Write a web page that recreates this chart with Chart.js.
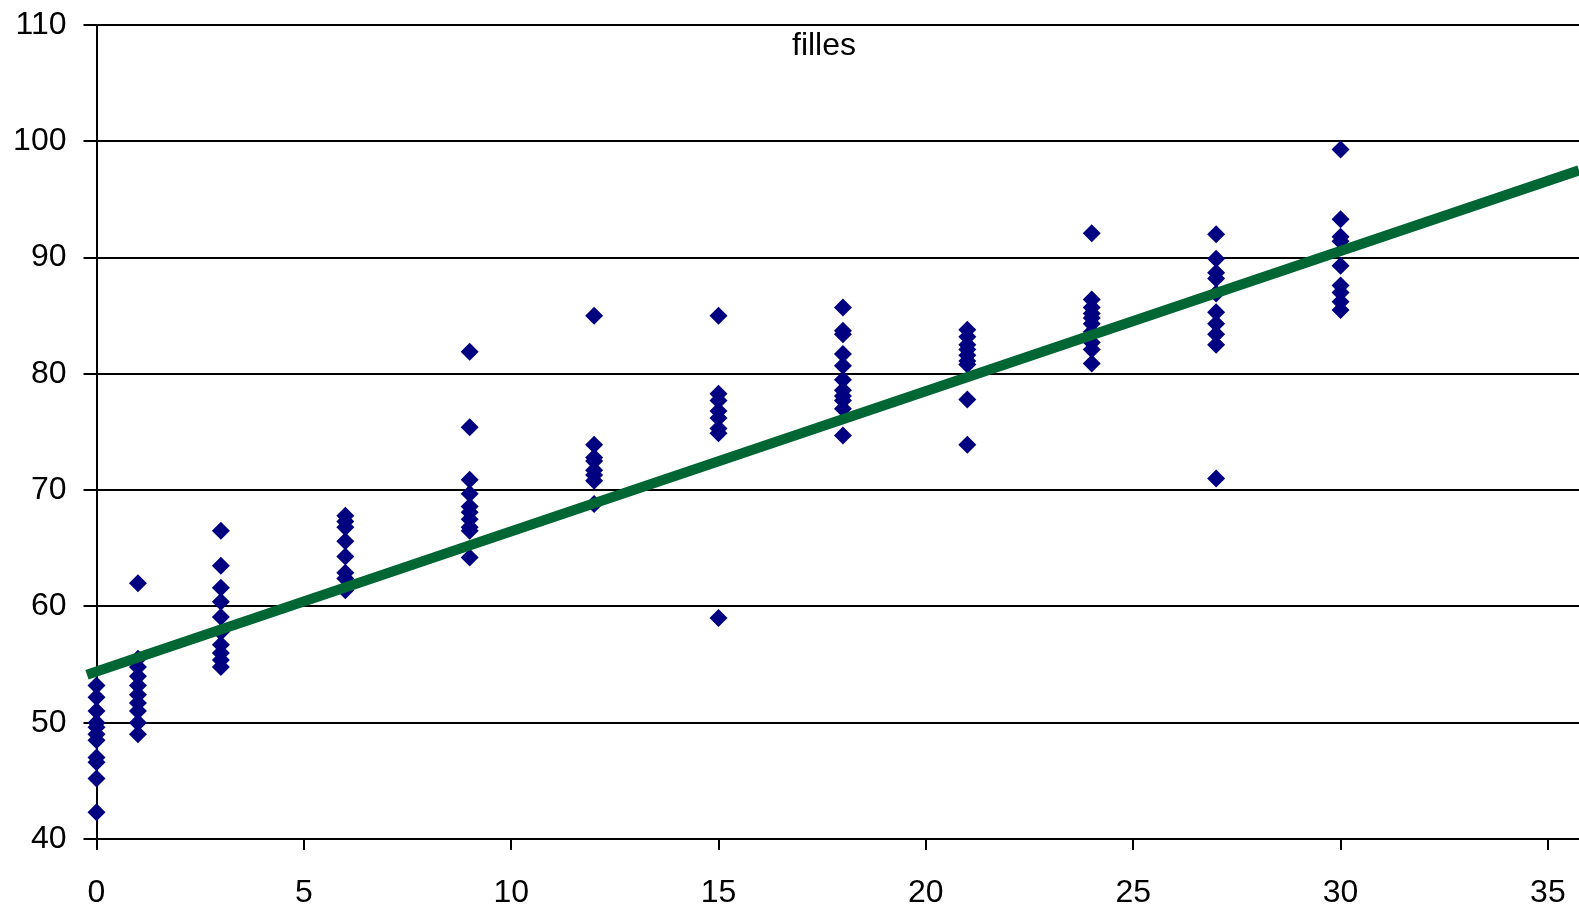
<!DOCTYPE html>
<html>
<head>
<meta charset="utf-8">
<script src="https://cdn.jsdelivr.net/npm/chart.js@4.4.1/dist/chart.umd.min.js"></script>
<style>
  html, body { margin: 0; padding: 0; background: #fff; overflow: hidden; }
  #wrap { width: 1579px; height: 907px; overflow: hidden; }
  #c { display: block; }
</style>
</head>
<body>
<div id="wrap"><canvas id="c" width="1579" height="907"></canvas></div>
<script>
// ---- data ----
const title = "filles";
const ages = [0, 1, 3, 6, 9, 12, 15, 18, 21, 24, 27, 30];
const h0  = [53.2, 52.2, 51.0, 50.0, 49.6, 49.0, 48.5, 47.0, 46.6, 45.2, 42.3];
const h1  = [62.0, 55.5, 54.8, 54.0, 53.2, 52.4, 51.7, 51.0, 50.0, 49.0];
const h3  = [66.5, 63.5, 61.6, 60.4, 59.1, 57.8, 56.7, 56.0, 55.4, 54.8];
const h6  = [67.8, 67.3, 66.8, 65.6, 64.3, 62.9, 62.4, 61.4];
const h9  = [81.9, 75.4, 70.9, 69.7, 68.6, 68.1, 67.5, 66.8, 66.5, 64.2];
const h12 = [85.0, 73.9, 72.8, 72.5, 71.7, 71.3, 70.8, 68.8];
const h15 = [85.0, 78.3, 77.7, 76.8, 76.2, 75.3, 74.9, 59.0];
const h18 = [85.7, 83.7, 83.4, 81.7, 80.7, 79.5, 78.6, 78.1, 77.7, 77.0, 74.7];
const h21 = [83.8, 83.2, 82.5, 82.1, 81.6, 81.1, 80.8, 77.8, 73.9];
const h24 = [92.1, 86.4, 85.7, 85.2, 84.8, 84.3, 83.6, 82.7, 82.1, 80.9];
const h27 = [92.0, 89.9, 88.7, 88.2, 86.9, 85.3, 84.3, 83.4, 82.5, 71.0];
const h30 = [99.3, 93.3, 91.8, 91.4, 89.3, 87.6, 87.0, 86.2, 85.5];
const trendX = [-0.23, 35.75];
const trendY = [54.12, 97.5];
const xTicks = [0, 5, 10, 15, 20, 25, 30, 35];
const yTicks = [40, 50, 60, 70, 80, 90, 100, 110];

// ---- build datasets ----
const heightGroups = [h0, h1, h3, h6, h9, h12, h15, h18, h21, h24, h27, h30];
const scatterPoints = [];
ages.forEach((a, i) => heightGroups[i].forEach(v => scatterPoints.push({x: a, y: v})));
const trendPoints = trendX.map((x, i) => ({x: x, y: trendY[i]}));

const FONT = "'Liberation Sans', Arial, Helvetica, sans-serif";

const titlePlugin = {
  id: 'innerTitle',
  afterDraw(chart) {
    const ctx = chart.ctx;
    ctx.save();
    ctx.fillStyle = '#000';
    ctx.font = "32px " + FONT;
    ctx.textAlign = 'center';
    ctx.textBaseline = 'alphabetic';
    ctx.fillText(title, 824, 54.5);
    ctx.restore();
  }
};

new Chart(document.getElementById('c'), {
  type: 'scatter',
  data: {
    datasets: [
      {
        type: 'line',
        label: 'trend',
        data: trendPoints,
        borderColor: '#006633',
        borderWidth: 10,
        borderCapStyle: 'butt',
        pointRadius: 0,
        fill: false,
        clip: false,
        order: 0
      },
      {
        label: 'filles',
        data: scatterPoints,
        pointStyle: 'rectRot',
        pointRadius: 9,
        pointBorderWidth: 0,
        backgroundColor: '#000080',
        borderColor: '#000080',
        clip: false,
        order: 1
      }
    ]
  },
  options: {
    responsive: false,
    animation: false,
    events: [],
    layout: { autoPadding: false, padding: { top: 25, right: 0, bottom: 0, left: 0 } },
    plugins: { legend: { display: false }, tooltip: { enabled: false }, title: { display: false } },
    scales: {
      x: {
        type: 'linear',
        min: 0,
        max: 35.75,
        afterBuildTicks(scale) { scale.ticks = xTicks.map(v => ({value: v})); },
        afterFit(scale) {
          scale.height = 68;
          scale.paddingLeft = 0; scale.paddingRight = 0;
          scale.paddingTop = 0; scale.paddingBottom = 0;
        },
        ticks: {
          includeBounds: false,
          autoSkip: false,
          maxRotation: 0,
          padding: 24,
          color: '#000',
          font: { family: FONT, size: 32 }
        },
        grid: {
          display: true,
          drawOnChartArea: false,
          drawTicks: true,
          tickLength: 11,
          color: '#000',
          lineWidth: 2
        },
        border: { display: true, color: '#000', width: 2 }
      },
      y: {
        type: 'linear',
        min: 40,
        max: 110,
        afterBuildTicks(scale) { scale.ticks = yTicks.map(v => ({value: v})); },
        afterFit(scale) {
          scale.width = 96.5;
          scale.paddingLeft = 0; scale.paddingRight = 0;
          scale.paddingTop = 0; scale.paddingBottom = 0;
        },
        ticks: {
          includeBounds: false,
          autoSkip: false,
          padding: 17,
          color: '#000',
          font: { family: FONT, size: 32 }
        },
        grid: {
          display: true,
          drawOnChartArea: true,
          drawTicks: true,
          tickLength: 13,
          color: '#000',
          lineWidth: 2
        },
        border: { display: true, color: '#000', width: 2 }
      }
    }
  },
  plugins: [titlePlugin]
});
</script>
</body>
</html>
